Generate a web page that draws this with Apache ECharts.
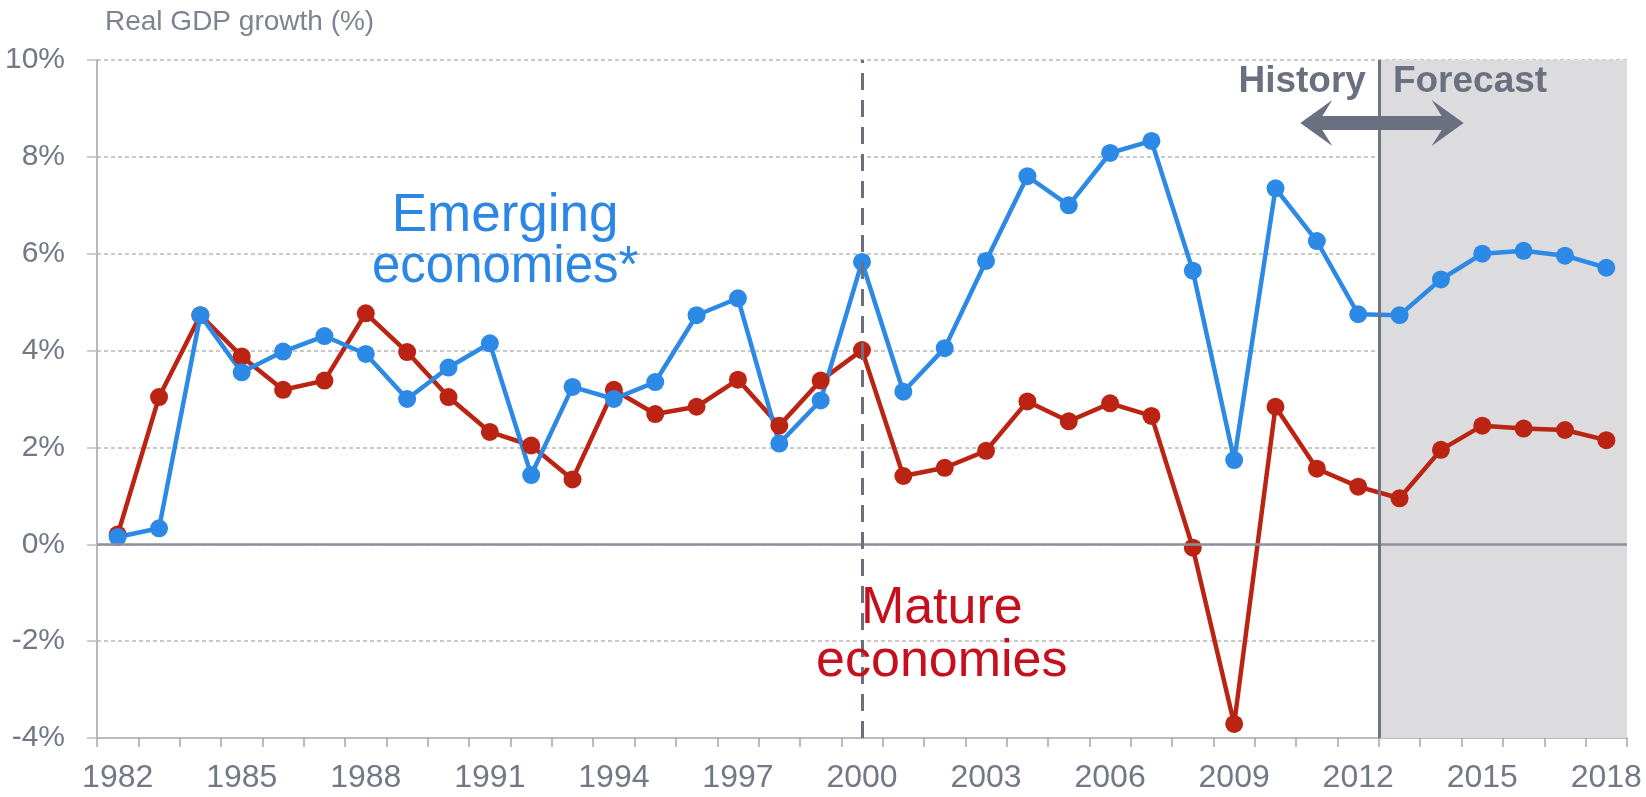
<!DOCTYPE html>
<html><head><meta charset="utf-8">
<script src="https://cdn.jsdelivr.net/npm/echarts@6/dist/echarts.min.js"></script>
<style>html,body{margin:0;padding:0;background:#fff}#c{width:1646px;height:797px}</style>
</head><body><div id="c"></div>
<script>
const years = ['1982','1983','1984','1985','1986','1987','1988','1989','1990','1991','1992','1993','1994','1995','1996','1997','1998','1999','2000','2001','2002','2003','2004','2005','2006','2007','2008','2009','2010','2011','2012','2013','2014','2015','2016','2017','2018'];
const emerging = [0.15,0.33,4.73,3.55,3.98,4.3,3.93,3.0,3.65,4.15,1.43,3.25,3.0,3.35,4.73,5.08,2.08,2.97,5.83,3.15,4.05,5.85,7.6,7.0,8.08,8.33,5.65,1.74,7.35,6.26,4.75,4.73,5.47,6.0,6.06,5.96,5.71];
const mature = [0.2,3.04,4.73,3.88,3.19,3.38,4.77,3.97,3.04,2.32,2.04,1.34,3.19,2.69,2.84,3.4,2.45,3.38,4.01,1.41,1.58,1.93,2.95,2.54,2.91,2.65,-0.07,-3.71,2.84,1.56,1.19,0.95,1.95,2.45,2.39,2.36,2.15];
const yMin = -4, yMax = 10, yStep = 2;
const firstForecastYear = '2013';
const dividerYear = '2000';

const FONT = "'Liberation Sans', Arial, Helvetica, sans-serif";
const GRAY = '#6b7080';
const BLUE = '#2c8ae6';
const RED = '#bb2413';

const forecastStart = years.indexOf(firstForecastYear);
const dividerPos = years.indexOf(dividerYear) + 0.5;

const chart = echarts.init(document.getElementById('c'), null, {renderer: 'canvas'});

function lineSeries(name, data, color) {
  return {
    name, type: 'line', data, z: 3,
    symbol: 'circle', symbolSize: 18, showSymbol: true,
    lineStyle: {color, width: 4.5},
    itemStyle: {color},
    emphasis: {disabled: true}, silent: true
  };
}

chart.setOption({
  animation: false,
  backgroundColor: '#fff',
  textStyle: {fontFamily: FONT},
  title: {text: 'Real GDP growth (%)', left: 100, top: 3,
    textStyle: {fontSize: 28, fontWeight: 'normal', color: '#7e8390', fontFamily: FONT}},
  grid: {left: 97, right: 19, top: 60, bottom: 59, containLabel: false},
  xAxis: [{
    type: 'category', data: years, boundaryGap: true,
    axisLine: {onZero: false, lineStyle: {color: '#b8bbc2', width: 2}},
    axisTick: {show: true, interval: 0, length: 9, lineStyle: {color: '#a3a7b0', width: 1.5}},
    axisLabel: {interval: 2, margin: 24, fontSize: 32, color: '#737887', fontFamily: FONT},
    splitLine: {show: false}
  }, {
    type: 'value', min: 0, max: years.length, show: false
  }],
  yAxis: {
    type: 'value', min: yMin, max: yMax, interval: yStep,
    axisLine: {show: true, lineStyle: {color: '#9da1aa', width: 1.5}},
    axisTick: {show: true, length: 10, lineStyle: {color: '#c0c0c0', width: 1.5}},
    axisLabel: {formatter: '{value}%', margin: 32, fontSize: 30, color: '#737887', fontFamily: FONT},
    splitLine: {show: true, lineStyle: {color: '#b8b8b8', width: 1.5, type: [4, 3]}}
  },
  series: [
    {type: 'line', xAxisIndex: 1, data: [], z: -1, silent: true,
      markArea: {silent: true, itemStyle: {color: '#dcdcde'},
        data: [[{xAxis: forecastStart}, {xAxis: years.length}]]}},
    {type: 'line', xAxisIndex: 1, data: [], z: 1, silent: true,
      markLine: {silent: true, symbol: ['none', 'none'], label: {show: false}, emphasis: {disabled: true},
        data: [
          {yAxis: 0, lineStyle: {color: '#8c909c', width: 2.5, type: 'solid'}},
          {xAxis: dividerPos, lineStyle: {color: '#6b707c', width: 3, type: [17, 10]}},
          {xAxis: forecastStart, lineStyle: {color: '#70757f', width: 3, type: 'solid'}}
        ]}},
    lineSeries('Mature economies', mature, RED),
    lineSeries('Emerging economies*', emerging, BLUE)
  ]
});

function px(x, y) { return chart.convertToPixel({xAxisIndex: 1, yAxisIndex: 0}, [x, y]); }

const fLine = px(forecastStart, 9.55);
const aL = px(29.1, 8.7), aR = px(33.05, 8.7);
const yc = aL[1], x0 = aL[0], x1 = aR[0];
const hw = 7, hl = 32, hh = 23, nk = 22;
const em1 = px(9.87, 6.78), em2 = px(9.87, 5.7);
const ma1 = px(20.43, -1.32), ma2 = px(20.43, -2.42);

function txt(p, text, color, size, weight, align) {
  return {type: 'text', x: p[0], y: p[1], z: 10, silent: true,
    style: {text, fill: color, fontSize: size, fontWeight: weight || 'normal', fontFamily: FONT,
      align: align || 'center', verticalAlign: 'middle'}};
}

chart.setOption({
  graphic: [
    txt(em1, 'Emerging', '#2b87e3', 53),
    txt(em2, 'economies*', '#2b87e3', 51),
    txt(ma1, 'Mature', '#c50f1c', 52),
    txt(ma2, 'economies', '#c50f1c', 52),
    txt([fLine[0] - 13, fLine[1]], 'History', GRAY, 37, 'bold', 'right'),
    txt([fLine[0] + 14, fLine[1]], 'Forecast', GRAY, 37, 'bold', 'left'),
    {type: 'polygon', z: 10, silent: true,
      shape: {points: [
        [x0, yc], [x0 + hl, yc - hh], [x0 + nk, yc - hw], [x1 - nk, yc - hw], [x1 - hl, yc - hh],
        [x1, yc], [x1 - hl, yc + hh], [x1 - nk, yc + hw], [x0 + nk, yc + hw], [x0 + hl, yc + hh]
      ]},
      style: {fill: GRAY}}
  ]
});
</script></body></html>
